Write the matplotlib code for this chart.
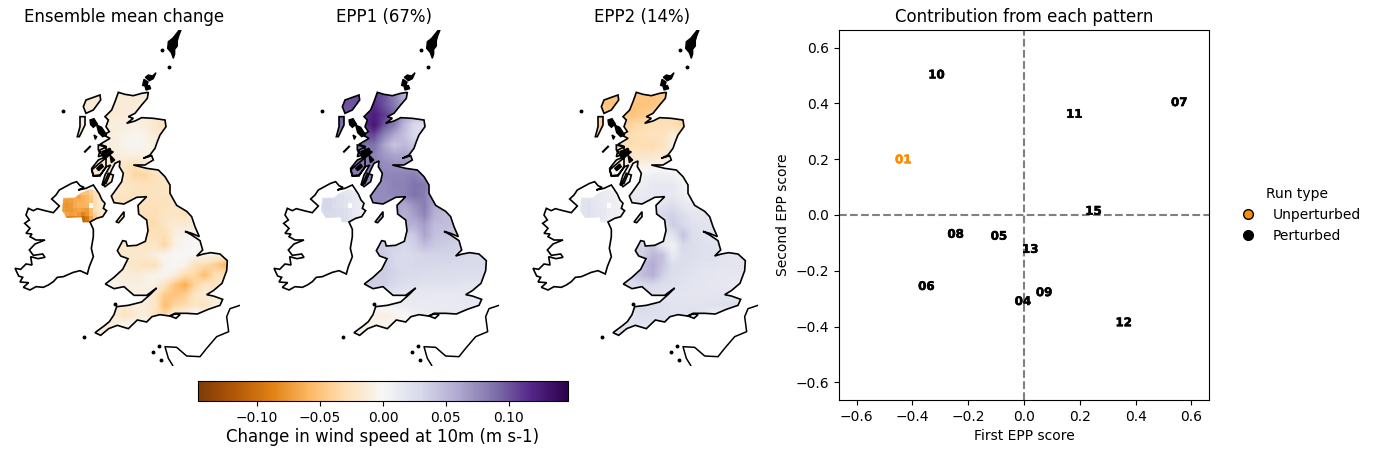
import matplotlib as mpl
mpl.use('Agg')
import matplotlib.pyplot as plt
import matplotlib.patheffects as pe
import numpy as np
from matplotlib.lines import Line2D
from matplotlib.path import Path
from matplotlib.patches import PathPatch

# map units, y grows southwards
gb_coast = [(355,217),(375,223),(400,227),(425,220),(445,217),(442,235),(425,255),(405,280),(385,290),(400,295),(380,310),(405,303),(425,293),(460,295),(495,300),(498,320),(480,345),(472,365),(465,385),(450,405),(430,415),(455,407),(460,420),(435,435),(400,435),(440,445),(475,450),(495,470),(510,495),(510,520),(530,556),(560,574),(575,590),(585,620),(598,650),(575,640),(555,634),(575,645),(600,662),(608,690),(590,708),(610,702),(632,698),(660,702),(682,722),(680,752),(666,790),(640,812),(620,824),(640,828),(668,838),(660,856),(625,868),(592,882),(560,880),(530,880),(508,888),(480,884),(456,890),(440,906),(412,900),(385,926),(352,916),(326,926),(302,946),(285,938),(312,918),(328,905),(342,884),(350,860),(385,856),(425,846),(452,822),(470,804),(440,826),(402,826),(372,800),(342,806),(316,792),(342,772),(368,748),(384,716),(362,708),(352,692),(368,662),(378,664),(382,678),(410,676),(436,664),(444,632),(440,600),(416,582),(414,556),(440,530),(410,532),(395,540),(372,552),(342,548),(334,528),(340,520),(365,485),(370,460),(358,440),(360,423),(345,430),(335,450),(318,490),(306,495),(315,465),(332,435),(320,440),(300,465),(280,467),(275,450),(298,430),(310,420),(340,395),(325,395),(310,405),(295,410),(300,390),(320,380),(300,373),(330,355),(310,345),(328,335),(318,320),(325,300),(315,290),(335,270),(345,245)]
ireland_coast = [(230,485),(240,497),(252,502),(235,510),(258,505),(280,495),(290,510),(298,522),(306,540),(315,550),(310,565),(320,572),(308,590),(290,595),(270,606),(280,628),(280,650),(274,685),(280,710),(268,740),(262,762),(240,752),(220,757),(190,770),(172,772),(160,785),(145,795),(130,802),(108,800),(90,810),(70,802),(86,788),(60,786),(68,772),(56,768),(45,745),(62,748),(78,732),(96,735),(92,710),(114,716),(135,712),(128,702),(100,706),(88,690),(105,672),(135,660),(108,660),(90,650),(96,642),(78,640),(90,625),(74,610),(88,600),(78,585),(85,565),(100,572),(112,566),(135,572),(160,578),(178,558),(155,537),(168,525),(178,510),(200,498),(215,490)]
ni_boundary = [(190,533),(225,533),(240,520),(270,507),(292,515),(310,550),(318,573),(298,595),(270,607),(248,607),(245,592),(200,594),(186,572)]
shetland = [(538,30),(543,30),(536,48),(532,62),(532,78),(524,88),(524,102),(520,115),(514,98),(503,85),(505,65),(518,55)]
orkney_a = [(468,158),(458,168),(445,165),(436,172),(448,182),(460,176)]
orkney_b = [(432,178),(444,186),(440,200),(428,196)]
orkney_c = [(436,202),(448,196),(452,206),(438,210)]
lewis = [(258,240),(300,225),(302,240),(280,270),(258,280),(250,260)]
uist = [(240,290),(255,290),(255,315),(238,350),(232,350),(240,320)]
skye_a = [(270,300),(282,296),(292,312),(280,322),(272,314)]
skye_b = [(290,315),(305,322),(320,345),(308,350),(296,338)]
skye_c = [(282,345),(290,350),(286,358)]
isle_a = [(305,395),(330,385),(335,398),(315,412)]
isle_b = [(290,445),(305,432),(310,440),(296,452)]
isle_c = [(330,405),(344,420),(334,428)]
mull = [(295,375),(315,380),(325,400),(310,410),(295,390)]
islay = [(275,445),(295,420),(318,410),(318,440),(300,468),(280,468)]
arran = [(310,495),(325,460),(340,465),(335,485),(315,500)]
man = [(348,606),(372,575),(372,590),(356,608)]
wight = [(510,888),(525,880),(540,884),(528,895)]
france = [(720,856),(690,866),(680,890),(686,935),(650,950),(620,985),(600,1010),(560,1008),(530,982),(495,980),(505,1015),(518,1036)]
tiree = [(255,395),(270,380)]
dots = [(190,273),(486,90),(506,141),(252,952),(346,852),(478,978),(458,997),(482,1020)]

# grid of the fields, x from 225 every 30, y from 225 every 30 (m/s x 1000)
mean_change = [
[-15,-15,-15,-15,-15,-15,-14,-14,-14,-14,-14,-14,-14,-14,-14,-14],
[-15,-15,-15,-15,-15,-14,-14,-13,-13,-13,-13,-13,-13,-13,-13,-13],
[-15,-15,-15,-14,-14,-13,-12,-12,-12,-12,-12,-12,-12,-12,-12,-12],
[-15,-15,-14,-14,-12,-10,-8,-12,-20,-28,-28,-28,-28,-28,-28,-28],
[-15,-15,-12,-10,-10,-7,-3,-6,-14,-22,-22,-22,-22,-22,-22,-22],
[-15,-15,-12,-11,-10,-5,-2,-5,-10,-15,-15,-15,-15,-15,-15,-15],
[-15,-15,-15,-15,-13,-10,-9,-8,-8,-10,-10,-10,-10,-10,-10,-10],
[-20,-20,-20,-20,-20,-22,-30,-20,-15,-12,-12,-12,-12,-12,-12,-12],
[-20,-20,-20,-20,-20,-22,-36,-36,-25,-20,-15,-15,-15,-15,-15,-15],
[-20,-20,-20,-20,-20,-22,-24,-27,-25,-24,-22,-20,-20,-20,-20,-20],
[-22,-22,-22,-22,-22,-23,-25,-26,-24,-24,-24,-22,-22,-22,-22,-22],
[-25,-25,-25,-25,-25,-25,-26,-25,-27,-25,-22,-22,-18,-18,-18,-18],
[-25,-25,-25,-25,-25,-25,-26,-28,-30,-22,-22,-25,-15,-12,-12,-12],
[-30,-30,-30,-30,-30,-30,-30,-30,-32,-22,-15,-16,-14,-12,-12,-12],
[-28,-28,-28,-28,-28,-28,-28,-28,-26,-30,-10,-4,-3,-3,-3,-3],
[-20,-20,-20,-20,-20,-20,-20,-22,-22,-36,-8,-2,-1,0,0,0],
[-18,-18,-18,-18,-18,-18,-20,-18,-10,-4,0,0,0,-5,-8,-10],
[-15,-15,-15,-15,-15,-18,-22,-26,-28,-4,0,-6,-28,-32,-42,-58],
[-10,-10,-10,-10,-10,-12,-14,-10,-5,-2,-12,-32,-35,-55,-30,-25],
[-6,-6,-6,-6,-6,-8,-10,-8,-6,-25,-50,-65,-38,-22,-25,-15],
[-10,-10,-10,-10,-10,-10,-10,-8,-22,-45,-50,-42,-22,-15,-14,-12],
[-14,-14,-14,-14,-14,-20,-12,-14,-20,-55,-38,-32,-22,-25,-10,-8],
[-12,-12,-12,-12,-12,-25,-15,-10,-25,-35,-12,-5,5,5,5,5],
[-15,-15,-15,-15,-10,-4,-4,-4,-4,-4,-4,-4,-4,-4,-4,-4],
[-12,-12,-12,-12,-8,-4,-4,-4,-4,-4,-4,-4,-4,-4,-4,-4],
]
epp1 = [
[100,100,100,105,110,100,80,55,45,45,45,45,45,45,45,45],
[100,100,100,110,115,100,85,60,50,50,50,50,50,50,50,50],
[95,95,100,112,122,110,95,65,50,50,50,50,50,50,50,50],
[90,90,95,110,128,100,82,50,28,25,25,25,25,25,25,25],
[85,85,90,100,105,78,60,45,28,25,25,25,25,25,25,25],
[85,85,85,88,88,62,42,50,40,35,35,35,35,35,35,35],
[85,85,85,85,80,68,62,62,55,50,50,50,50,50,50,50],
[85,85,85,85,80,75,72,72,65,60,60,60,60,60,60,60],
[85,85,85,80,78,78,78,78,82,70,60,60,60,60,60,60],
[75,75,75,75,75,75,80,80,88,85,70,60,60,60,60,60],
[75,75,75,75,75,75,78,80,88,82,60,55,55,55,55,55],
[75,75,75,75,75,75,65,60,72,82,60,50,50,50,50,50],
[65,65,65,65,65,65,65,55,65,78,55,48,45,45,45,45],
[55,55,55,55,55,55,55,55,55,65,48,48,45,45,45,45],
[35,35,35,35,35,35,35,35,40,62,45,42,40,40,40,40],
[38,38,38,38,38,38,32,30,35,48,40,38,35,35,35,35],
[38,38,38,38,38,38,30,28,30,32,33,33,32,30,28,28],
[32,32,32,32,32,38,30,28,30,30,30,30,28,28,28,28],
[38,38,38,38,38,38,32,28,28,26,25,25,25,24,24,24],
[35,35,35,35,35,35,28,24,22,20,20,20,20,18,18,18],
[25,25,25,25,25,20,18,15,15,15,14,14,14,14,14,14],
[5,5,5,5,5,5,8,10,12,12,12,12,13,14,14,14],
[-6,-6,-6,-6,-8,-10,-6,0,6,10,12,14,14,14,14,14],
[-8,-8,-8,-8,-6,-3,-3,-3,-3,-3,-3,-3,-3,-3,-3,-3],
[-6,-6,-6,-6,-6,-3,-3,-3,-3,-3,-3,-3,-3,-3,-3,-3],
]
epp2 = [
[-48,-48,-48,-48,-48,-48,-48,-45,-45,-45,-45,-45,-45,-45,-45,-45],
[-48,-48,-50,-50,-50,-50,-48,-45,-45,-45,-45,-45,-45,-45,-45,-45],
[-40,-40,-40,-45,-50,-45,-40,-32,-32,-32,-32,-32,-32,-32,-32,-32],
[-40,-40,-40,-40,-35,-32,-28,-28,-30,-35,-35,-35,-35,-35,-35,-35],
[-35,-35,-35,-35,-30,-28,-24,-26,-12,-25,-25,-25,-25,-25,-25,-25],
[-30,-30,-30,-30,-30,-30,-32,-25,-10,-15,-15,-15,-15,-15,-15,-15],
[-22,-22,-22,-22,-22,-22,-20,-18,-15,-12,-12,-12,-12,-12,-12,-12],
[-10,-10,-10,-10,-10,-8,-6,-5,-5,-5,-5,-5,-5,-5,-5,-5],
[3,3,3,3,3,3,8,8,5,2,-2,-2,-2,-2,-2,-2],
[8,8,8,8,8,10,15,15,15,5,-2,-2,-2,-2,-2,-2],
[12,12,12,12,12,12,15,15,15,8,-5,-5,-5,-5,-5,-5],
[18,18,18,18,18,18,18,20,25,15,12,12,12,12,12,12],
[25,25,25,25,25,25,25,30,35,25,18,18,18,18,18,18],
[20,20,20,20,20,20,20,20,38,30,22,20,18,18,18,18],
[12,12,12,12,12,12,12,12,20,45,25,20,20,20,20,20],
[32,32,32,32,32,32,40,15,5,30,25,22,20,20,20,20],
[35,35,35,35,35,35,50,45,12,25,25,22,22,20,18,18],
[40,40,40,40,40,45,58,42,25,25,22,20,20,18,18,18],
[35,35,35,35,35,48,55,35,25,22,20,18,18,16,16,16],
[25,25,25,25,25,30,30,25,22,20,18,18,16,16,14,14],
[25,25,25,25,25,25,20,20,18,18,18,18,18,18,16,16],
[25,25,25,25,25,28,25,22,20,20,20,20,22,22,24,20],
[20,20,20,20,20,25,22,22,20,20,22,20,5,5,5,5],
[20,20,20,20,20,20,20,20,20,20,20,20,20,20,20,20],
[20,20,20,20,20,20,20,20,20,20,20,20,20,20,20,20],
]
# northern ireland block, 12 cells wide from x 183, 12.75 tall from y 499
nan = np.nan
mean_ni = [
[-40,-40,-40,-40,-40,-40,-35,-30,-25,-20,-15,-15],
[-55,-55,-55,-55,-55,-50,-50,-40,-28,-20,-15,-15],
[-60,-62,-66,-68,-70,-62,-58,-48,-30,-22,-15,-15],
[-72,-74,-72,-66,-64,-62,-56,-50,-28,-20,-15,-15],
[-76,-78,-74,-66,-62,-62,-60,nan,-30,-20,-12,-12],
[-72,-76,-76,-72,-68,-72,-74,-55,-30,-20,-15,-15],
[-60,-70,-72,-70,-74,-88,-78,-55,-38,-22,-15,-15],
[-65,-85,-85,-85,-85,-105,-95,-70,-40,-30,-15,-15],
[-65,-85,-85,-85,-85,-112,-105,-70,-40,-30,-15,-15],
]
epp1_ni = [
[18,18,18,18,18,18,16,14,12,10,10,10],
[22,22,22,22,22,20,18,16,14,12,10,10],
[24,26,28,26,24,22,20,18,15,12,10,10],
[28,30,30,28,24,22,20,18,15,12,10,10],
[30,30,30,26,24,22,20,nan,15,12,10,10],
[28,30,30,28,26,26,24,20,15,12,10,10],
[26,28,28,28,26,26,24,20,16,12,10,10],
[26,28,28,28,26,26,24,20,16,12,10,10],
[26,28,28,28,26,26,24,20,16,12,10,10],
]
epp2_ni = [
[12,12,12,12,12,12,10,10,8,8,6,6],
[15,15,15,15,15,14,12,10,8,8,6,6],
[18,18,18,16,16,14,12,10,8,8,6,6],
[20,20,20,18,16,14,12,10,8,8,6,6],
[20,20,22,18,16,14,12,nan,8,8,6,6],
[20,20,22,20,18,16,14,10,8,8,6,6],
[18,20,22,20,18,16,14,10,8,8,6,6],
[18,20,22,20,18,16,14,10,8,8,6,6],
[18,20,22,20,18,16,14,10,8,8,6,6],
]

titles = ['Ensemble mean change', 'EPP1 (67%)', 'EPP2 (14%)']
fields = [mean_change, epp1, epp2]
ni_fields = [mean_ni, epp1_ni, epp2_ni]
cbar_ticks = [-0.10, -0.05, 0.00, 0.05, 0.10]
vmax = 0.147

run_ids = ['10', '07', '11', '01', '15', '08', '05', '13', '06', '04', '09', '12']
epp1_score = [-0.314, 0.556, 0.18, -0.433, 0.249, -0.245, -0.09, 0.022, -0.35, -0.004, 0.072, 0.357]
epp2_score = [0.502, 0.403, 0.361, 0.198, 0.014, -0.069, -0.076, -0.123, -0.256, -0.31, -0.278, -0.386]
score_ticks = [-0.6, -0.4, -0.2, 0.0, 0.2, 0.4, 0.6]
unperturbed = '#ff8c00'

W, H = 1376, 454


def px_axes(fig, x0, y0, x1, y1):
    return fig.add_axes([x0 / W, 1 - y1 / H, (x1 - x0) / W, (y1 - y0) / H])


def make_path(polys):
    verts, codes = [], []
    for p in polys:
        verts += list(p) + [p[0]]
        codes += [Path.MOVETO] + [Path.LINETO] * (len(p) - 1) + [Path.CLOSEPOLY]
    return Path(verts, codes)


fig = plt.figure(figsize=(W / 100, H / 100), dpi=100)

land = [gb_coast, lewis, uist, mull, islay, arran, man, wight]
outlines = [gb_coast, ireland_coast, lewis, uist, mull, islay, arran, man, wight]
solid = [shetland, orkney_a, orkney_b, orkney_c, skye_a, skye_b, skye_c, isle_a, isle_b, isle_c]
im = None
for i in range(3):
    ax = px_axes(fig, 9 + 259 * i, 30, 240 + 259 * i, 366)
    gb = np.array(fields[i]) / 1000
    im = ax.imshow(gb, cmap='PuOr', vmin=-vmax, vmax=vmax, interpolation='bilinear',
                   extent=(210, 690, 960, 210), aspect='auto')
    im.set_clip_path(PathPatch(make_path(land), transform=ax.transData))
    ni = np.array(ni_fields[i]) / 1000
    im2 = ax.imshow(ni, cmap='PuOr', vmin=-vmax, vmax=vmax, interpolation='nearest',
                    extent=(183, 327, 614, 499), aspect='auto')
    im2.set_clip_path(PathPatch(make_path([ni_boundary]), transform=ax.transData))
    ax.add_patch(PathPatch(make_path(outlines), fc='none', ec='black', lw=1.2))
    ax.add_patch(PathPatch(make_path(solid), fc='black', ec='black', lw=1.0))
    ax.plot(*zip(*france), color='black', lw=1.1)
    ax.plot(*zip(*tiree), color='black', lw=1.5)
    ax.plot(*zip(*dots), ls='none', marker='o', ms=1.8, color='black')
    ax.set_xlim(27, 720)
    ax.set_ylim(1038, 30)
    ax.axis('off')
    ax.set_title(titles[i], fontsize=12, pad=6)

cax = px_axes(fig, 198, 381, 568, 401)
cb = fig.colorbar(im, cax=cax, orientation='horizontal')
cb.set_ticks(cbar_ticks)
cb.set_label('Change in wind speed at 10m (m s-1)', fontsize=12, labelpad=2.5)

ax = px_axes(fig, 839, 30, 1209, 400)
ax.axhline(0, color='gray', ls='--', lw=1.5)
ax.axvline(0, color='gray', ls='--', lw=1.5)
for rid, x, y in zip(run_ids, epp1_score, epp2_score):
    c = unperturbed if rid == '01' else 'black'
    ax.text(x, y, rid, color=c, fontsize=8.5, fontweight='bold', ha='center', va='center',
            path_effects=[pe.withStroke(linewidth=0.4, foreground=c)])
ax.set_xlim(-0.663, 0.663)
ax.set_ylim(-0.663, 0.663)
ax.set_xticks(score_ticks)
ax.set_yticks(score_ticks)
ax.set_xlabel('First EPP score')
ax.set_ylabel('Second EPP score')
ax.set_title('Contribution from each pattern', fontsize=12, pad=6)

handles = [Line2D([], [], ls='none', marker='o', ms=7, mfc=unperturbed, mec='black', label='Unperturbed'),
           Line2D([], [], ls='none', marker='o', ms=7, mfc='black', mec='black', label='Perturbed')]
ax.legend(handles=handles, title='Run type', frameon=False, loc='center left',
          bbox_to_anchor=(1.033, 0.5))

fig.savefig('out.png', dpi=100)
